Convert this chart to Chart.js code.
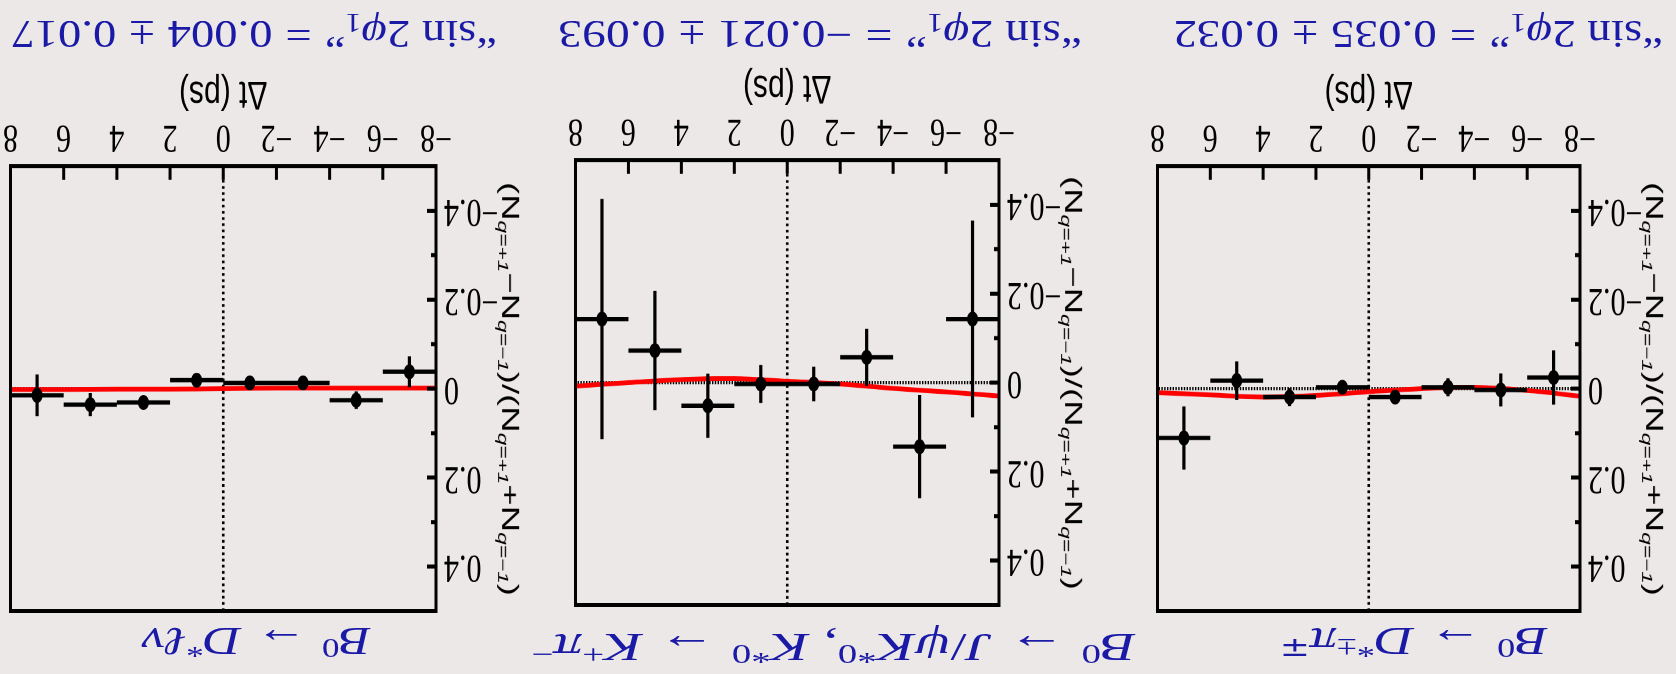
<!DOCTYPE html>
<html>
<head>
<meta charset="utf-8">
<title>"sin 2phi1" null tests</title>
<script src="https://cdn.jsdelivr.net/npm/chart.js@4.4.1/dist/chart.umd.min.js"></script>
<style>
  html, body { margin: 0; padding: 0; background: #ece8e7; overflow: hidden; }
  /* the whole figure is shown upside down */
  #page { position: absolute; left: 0; top: 0; width: 1676px; height: 674px; transform: rotate(180deg); }
  .panel { position: absolute; transform-origin: 0 0; }
  .panel canvas { position: absolute; left: 0; top: 0; }
  .ylab { position: absolute; white-space: nowrap; font-family: "Liberation Sans", Arial, sans-serif;
          font-size: 24px; line-height: 1; color: #000; }
  .ylab sub { font-size: 0.62em; font-style: italic; vertical-align: -0.3em; line-height: 0; }
  .txt { position: absolute; white-space: nowrap; font-family: "Liberation Serif", serif;
         line-height: 1; color: #1a1aa6; transform-origin: 0 0; }
  .txt sup { font-size: 0.68em; vertical-align: 0.42em; line-height: 0; }
  .txt sub { font-size: 0.68em; vertical-align: -0.25em; line-height: 0; }
  .op { margin: 0 0.28em; }
</style>
</head>
<body>
<div id="page"></div>
<script>
// bins in delta t (ps), fit curve sample points, axis ticks
const binCenters = [-7, -5, -3, -1, 1, 3, 5, 7];
const binHalfWidth = 1;
const fitX = [-8, -6, -4, -2, 0, 2, 4, 6, 8];
const xTicks = [-8, -6, -4, -2, 0, 2, 4, 6, 8];
const yTicks = [-0.4, -0.2, 0, 0.2, 0.4];
const yMinorTicks = [-0.3, -0.1, 0.1, 0.3];

// B0 -> D*pi
const dpiY   = [-0.025, 0.003, -0.003, 0.019, -0.003, 0.019, -0.018, 0.111];
const dpiErr = [0.061, 0.037, 0.020, 0.010, 0.012, 0.020, 0.043, 0.071];
const dpiFit = [0.017, 0.004, -0.003, 0.000, 0.007, 0.015, 0.019, 0.014, 0.009];

// B0 -> J/psi K*0
const jpsiY   = [-0.143, 0.144, -0.057, 0.003, 0.003, 0.052, -0.072, -0.143];
const jpsiErr = [0.221, 0.116, 0.064, 0.039, 0.043, 0.072, 0.134, 0.270];
const jpsiFit = [0.030, 0.021, 0.013, 0.003, -0.003, -0.009, -0.007, 0.000, 0.008];

// B0 -> D* l nu
const dlnuY   = [-0.038, 0.026, -0.013, -0.013, -0.019, 0.031, 0.036, 0.015];
const dlnuErr = [0.035, 0.020, 0.012, 0.012, 0.010, 0.015, 0.026, 0.047];
const dlnuFit = [-0.001, -0.001, -0.001, -0.001, 0.000, 0.001, 0.001, 0.002, 0.002];

// fitted "sin 2phi1" per mode
const sinValue = ['0.035', '−0.021', '0.004'];
const sinError = ['0.032', '0.093', '0.017'];
const modeTitles = [
  '<i>B</i><sup>0</sup><span class="op">→</span><i>D</i><sup>*±</sup><i>π</i><sup>∓</sup>',
  '<i>B</i><sup>0</sup><span class="op">→</span><i>J</i>/<i>ψK</i><sup>*0</sup>, <i>K</i><sup>*0</sup><span class="op">→</span><i>K</i><sup>+</sup><i>π</i><sup>−</sup>',
  '<i>B</i><sup>0</sup><span class="op">→</span><i>D</i><sup>*</sup><i>ℓν</i>'
];

// layout (the original figure is stretched vertically)
const K = 1.35;
const AXIS_W = 94, PAD_T = 10, PAD_R = 10, XAXIS_H = 80;
const PLOT_H = 330;
const YLAB_OFF = 74;
const xTickFont = { family: 'Liberation Serif', size: 30 };
const yTickFont = { family: 'Liberation Serif', size: 30, lineHeight: 0.5 };

const layout = [
  { left: 96,   top: 63, w: 424, title: [128, 397, 46],   sin: [13, 503, 653] },
  { left: 677,  top: 69, w: 425, title: [540, 1145, 40],  sin: [594, 1118, 653] },
  { left: 1240, top: 63, w: 427, title: [1305, 1534, 46], sin: [1179, 1665, 653] }
];
const series = [
  [dpiY, dpiErr, dpiFit],
  [jpsiY, jpsiErr, jpsiFit],
  [dlnuY, dlnuErr, dlnuFit]
];

function fmt(v) { return v < 0 ? '−' + Math.abs(v) : String(v); }

// dotted zero lines, error bars, frame and inner ticks
const decor = {
  id: 'decor',
  beforeDatasetsDraw(chart) {
    const { ctx, chartArea: a, scales: { x, y } } = chart;
    ctx.save();
    ctx.strokeStyle = '#000';
    ctx.lineWidth = 2.6;
    ctx.setLineDash([2, 2.6]);
    ctx.beginPath();
    ctx.moveTo(x.getPixelForValue(0), a.top);
    ctx.lineTo(x.getPixelForValue(0), a.bottom);
    ctx.stroke();
    ctx.lineWidth = 2.6;
    ctx.setLineDash([1.4, 1.4]);
    ctx.beginPath();
    ctx.moveTo(a.left, y.getPixelForValue(0));
    ctx.lineTo(a.right, y.getPixelForValue(0));
    ctx.stroke();
    ctx.restore();
  },
  afterDatasetsDraw(chart, args, opts) {
    const { ctx, scales: { x, y } } = chart;
    const vals = opts.vals, errs = opts.errs;
    ctx.save();
    ctx.strokeStyle = '#000';
    ctx.lineWidth = 3.2;
    ctx.beginPath();
    binCenters.forEach((c, i) => {
      const py = y.getPixelForValue(vals[i]);
      ctx.moveTo(x.getPixelForValue(c - binHalfWidth), py);
      ctx.lineTo(x.getPixelForValue(c + binHalfWidth), py);
      const px = x.getPixelForValue(c);
      ctx.moveTo(px, y.getPixelForValue(vals[i] - errs[i]));
      ctx.lineTo(px, y.getPixelForValue(vals[i] + errs[i]));
    });
    ctx.stroke();
    ctx.restore();
  },
  afterDraw(chart) {
    const { ctx, chartArea: a, scales: { x, y } } = chart;
    ctx.save();
    ctx.strokeStyle = '#000';
    ctx.lineWidth = 3;
    ctx.beginPath();
    xTicks.forEach(v => {
      const px = x.getPixelForValue(v);
      ctx.moveTo(px, a.bottom);
      ctx.lineTo(px, a.bottom - 10);
    });
    yTicks.forEach(v => {
      const py = y.getPixelForValue(v);
      ctx.moveTo(a.left, py);
      ctx.lineTo(a.left + 9, py);
    });
    yMinorTicks.forEach(v => {
      const py = y.getPixelForValue(v);
      ctx.moveTo(a.left, py);
      ctx.lineTo(a.left + 5, py);
    });
    ctx.stroke();
    ctx.strokeRect(a.left, a.top, a.right - a.left, a.bottom - a.top);
    ctx.restore();
  }
};

function chartConfig(vals, errs, fit) {
  return {
    type: 'scatter',
    data: {
      datasets: [
        { type: 'line', data: fitX.map((x, i) => ({ x, y: fit[i] })), borderColor: '#ff0000',
          borderWidth: 3.5, pointRadius: 0, tension: 0.4, fill: false, order: 2 },
        { data: binCenters.map((x, i) => ({ x, y: vals[i] })), backgroundColor: '#000',
          borderWidth: 0, pointRadius: 5.5, order: 1 }
      ]
    },
    options: {
      responsive: false,
      maintainAspectRatio: false,
      animation: false,
      devicePixelRatio: 2,
      events: [],
      layout: { padding: { top: PAD_T, right: PAD_R, left: 0, bottom: 0 } },
      plugins: {
        legend: { display: false },
        tooltip: { enabled: false },
        decor: { vals, errs }
      },
      scales: {
        x: {
          type: 'linear', min: -8, max: 8,
          afterBuildTicks: s => { s.ticks = xTicks.map(v => ({ value: v })); },
          afterFit: s => { s.height = XAXIS_H; },
          grid: { display: false, drawTicks: false },
          border: { display: false },
          ticks: { font: xTickFont, color: '#000', padding: 4, maxRotation: 0, minRotation: 0,
                   autoSkip: false, callback: v => fmt(v) },
          title: { display: true, text: 'Δt (ps)', color: '#000',
                   font: { family: 'Liberation Sans', size: 30 }, padding: { top: 0, bottom: 8 } }
        },
        y: {
          type: 'linear', min: -0.5, max: 0.5,
          afterBuildTicks: s => { s.ticks = yTicks.map(v => ({ value: v })); },
          afterFit: s => { s.width = AXIS_W; },
          grid: { display: false, drawTicks: false },
          border: { display: false },
          ticks: { font: yTickFont, color: '#000', padding: 8, autoSkip: false, callback: v => fmt(v) }
        }
      }
    },
    plugins: [decor]
  };
}

const page = document.getElementById('page');

layout.forEach((L, k) => {
  const [vals, errs, fit] = series[k];
  const wrap = document.createElement('div');
  wrap.className = 'panel';
  const cw = AXIS_W + L.w + PAD_R;
  let ch = PAD_T + PLOT_H + XAXIS_H;
  wrap.style.left = (L.left - AXIS_W) + 'px';
  wrap.style.width = cw + 'px';
  wrap.style.transform = 'scaleY(' + K + ')';
  let cv = document.createElement('canvas');
  cv.width = cw; cv.height = ch;
  wrap.appendChild(cv);
  page.appendChild(wrap);

  // first pass: find how far Chart.js pushes the plot top down, then rebuild taller
  let chart = new Chart(cv, chartConfig(vals, errs, fit));
  const extra = chart.chartArea.top - PAD_T;
  chart.destroy();
  wrap.removeChild(cv);
  ch += extra;
  cv = document.createElement('canvas');
  cv.width = cw; cv.height = ch;
  wrap.appendChild(cv);
  wrap.style.height = ch + 'px';
  wrap.style.top = (L.top - (PAD_T + extra) * K) + 'px';
  chart = new Chart(cv, chartConfig(vals, errs, fit));

  const yl = document.createElement('div');
  yl.className = 'ylab';
  yl.innerHTML = '(N<sub>q=+1</sub>−N<sub>q=−1</sub>)/(N<sub>q=+1</sub>+N<sub>q=−1</sub>)';
  wrap.appendChild(yl);
  const w = yl.offsetWidth;
  const a = chart.chartArea;
  yl.style.left = (a.left - YLAB_OFF - w / 2) + 'px';
  yl.style.top = ((a.top + a.bottom) / 2 - yl.offsetHeight / 2) + 'px';
  yl.style.transform = 'rotate(-90deg) scaleX(' + (307 / w) + ')';

  // mode title above, fitted value below
  const t = document.createElement('div');
  t.className = 'txt';
  t.innerHTML = modeTitles[k];
  page.appendChild(t);
  placeText(t, L.title[0], L.title[1], L.title[2], 40);

  const s = document.createElement('div');
  s.className = 'txt';
  s.innerHTML = '“sin 2<i>φ</i><sub>1</sub>”<span class="op">=</span>' + sinValue[k] +
                '<span class="op">±</span>' + sinError[k];
  page.appendChild(s);
  placeText(s, L.sin[0], L.sin[1], L.sin[2], 41);
});

function placeText(el, x0, x1, baseline, size) {
  el.style.fontSize = size + 'px';
  el.style.left = x0 + 'px';
  el.style.top = (baseline - 0.8375 * size) + 'px';
  const w = el.offsetWidth;
  el.style.transform = 'scaleX(' + ((x1 - x0) / w) + ')';
}
</script>
</body>
</html>
